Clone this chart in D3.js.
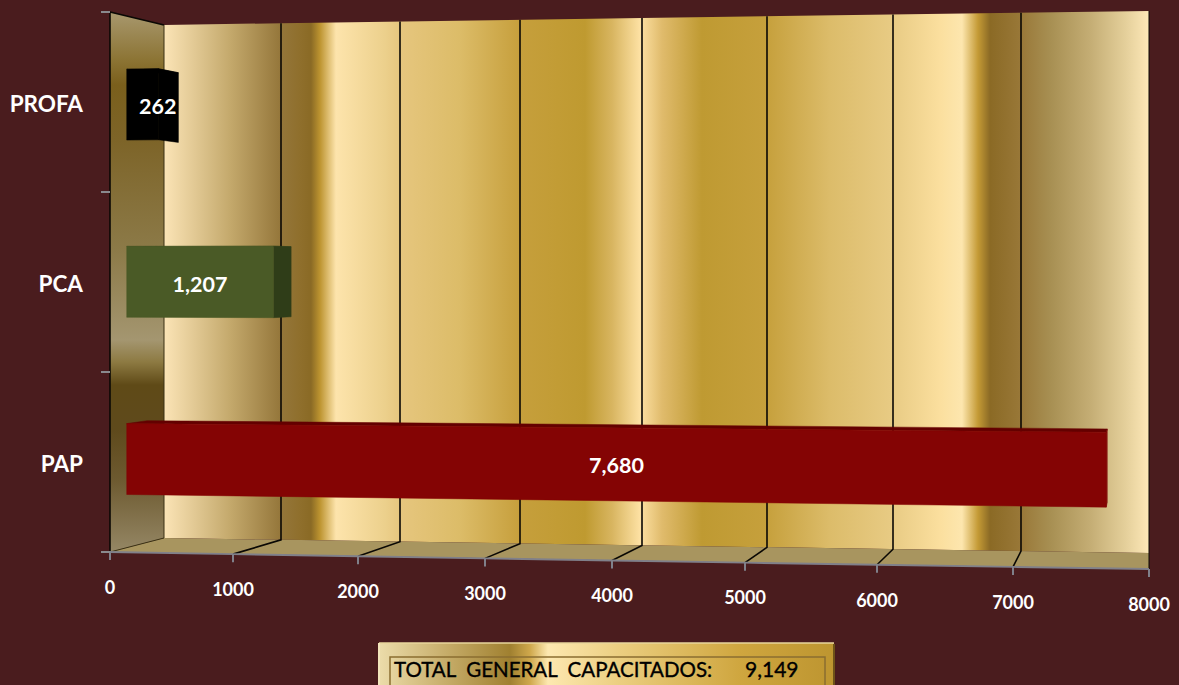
<!DOCTYPE html>
<html><head><meta charset="utf-8">
<script src="https://cdn.jsdelivr.net/npm/d3@7"></script>
<style>html,body{margin:0;padding:0;background:#4a1c1e;overflow:hidden}text{font-family:Lato,"Open Sans",sans-serif}</style>
</head><body><svg id="c" width="1179" height="685"></svg>
<script>
// --- data ---
const categories = ["PAP", "PCA", "PROFA"];
const values = [7680, 1207, 262];
const xTicks = [0, 1000, 2000, 3000, 4000, 5000, 6000, 7000, 8000];
const totalLabel = "TOTAL  GENERAL  CAPACITADOS:";
const barColors = ["#840404", "#4a5a26", "#000000"];
const barSideColors = ["#7a0303", "#2f3d18", "#000000"];
const barTopColors = ["#640000", "#3a4a1e", "#000000"];

// --- perspective layout ---
const frontXs = [110, 233, 358, 485, 612, 745, 877, 1013, 1149];
const backXs  = [164, 281, 400, 520, 642, 767, 893, 1021, 1149];
const floorX = d3.scaleLinear().domain(xTicks).range(frontXs);
const backX  = d3.scaleLinear().domain(xTicks).range(backXs);
const frontBottom = d3.scaleLinear().domain([0, 8000]).range([552, 569]);
const backBottom  = d3.scaleLinear().domain([0, 8000]).range([538, 553]);
const frontTop    = d3.scaleLinear().domain([0, 8000]).range([12, -4]);
const backTop     = d3.scaleLinear().domain([0, 8000]).range([25, 11]);
const band = d3.scaleBand().domain(categories).range([0, 1]).paddingInner(0.6).paddingOuter(0.3);
const DEPTH0 = 0.31, DEPTH1 = 0.69;
function P(v, d, h) {
  const x = floorX(v) + (backX(v) - floorX(v)) * d;
  const b = frontBottom(v) + (backBottom(v) - frontBottom(v)) * d;
  const t = frontTop(v) + (backTop(v) - frontTop(v)) * d;
  return [x, b + (t - b) * h];
}
const svg = d3.select("#c");
const defs = svg.append("defs");
function grad(id, stops, attrs) {
  const g = defs.append("linearGradient").attr("id", id).attr("gradientUnits", "userSpaceOnUse");
  Object.entries(attrs).forEach(([k, v]) => g.attr(k, v));
  const a = attrs.x2 !== attrs.x1 ? attrs.x1 : attrs.y1, b = attrs.x2 !== attrs.x1 ? attrs.x2 : attrs.y2;
  stops.forEach(s => g.append("stop").attr("offset", (s[0] - a) / (b - a)).attr("stop-color", s[1]));
}
grad("wall", [[164,"#fbe4b6"],[230,"#c4a96c"],[281,"#94763a"],[300,"#8f6f2c"],[311,"#8a6a25"],[320,"#bd9430"],[336,"#fde4ac"],[385,"#ecd08c"],[400,"#e6c67e"],[460,"#dcbc68"],[520,"#c69f3c"],[585,"#bf9a30"],[612,"#d8b560"],[640,"#fde1a3"],[662,"#e0bb6c"],[702,"#bf9a32"],[767,"#c6a03c"],[830,"#dcbc6a"],[893,"#e8cb84"],[940,"#fbdf9e"],[962,"#fde6ae"],[978,"#c49a35"],[990,"#8b6a25"],[1021,"#997838"],[1050,"#a78f52"],[1090,"#c4ad74"],[1125,"#e4cf9a"],[1149,"#fde8b8"]],
  {x1:164,x2:1149,y1:0,y2:0});
grad("side", [[12,"#a8986e"],[60,"#8c7434"],[85,"#7a5f1c"],[140,"#7d6428"],[250,"#8c7a48"],[340,"#a49670"],[362,"#8d7a42"],[385,"#5f4a17"],[430,"#5f4a1c"],[480,"#6d5a30"],[552,"#958765"]],
  {x1:0,x2:0,y1:12,y2:552});
grad("box", [[379,"#ecdcaa"],[450,"#c4aa66"],[510,"#a08030"],[530,"#cfa84c"],[548,"#fde8b0"],[620,"#ebce80"],[740,"#cfa63f"],[834,"#bd9530"]],
  {x1:379,x2:834,y1:0,y2:0});

const line = d3.line();
const poly = (pts, fill, stroke) => svg.append("path").attr("d", line(pts) + "Z").attr("fill", fill).attr("stroke", stroke || "none");

svg.append("rect").attr("width", 1179).attr("height", 685).attr("fill", "#4a1c1e");

// back wall, side wall, floor
poly([P(0,1,0), P(0,1,1), P(1000,1,1), P(4000,1,1), P(8000,1,1), P(8000,1,0)], "url(#wall)");
poly([P(0,0,0), P(0,0,1), P(0,1,1), P(0,1,0)], "url(#side)");
poly([P(0,0,0), P(0,1,0), P(8000,1,0), P(8000,0,0)], "#a8955f");

// grid lines
const grid = svg.append("g").attr("fill", "none").attr("stroke", "#0a0804").attr("stroke-width", 1.6);
xTicks.forEach(t => {
  if (t === 8000) {
    grid.append("path").attr("d", line([P(t,1,1), P(t,1,0), P(t,0,0)])).attr("stroke-width", 1);
    return;
  }
  if (t === 0) {
    grid.append("path").attr("d", line([P(t,0,0), P(t,0,1), P(t,1,1)]));
    grid.append("path").attr("d", line([P(t,1,1), P(t,1,0), P(t,0,0)])).attr("stroke", "#3b3115").attr("stroke-width", 1);
    return;
  }
  grid.append("path").attr("d", line([P(t,1,1), P(t,1,0), P(t,0,0)]));
});

// bars
categories.forEach((c, i) => {
  const v = values[i], h0 = band(c), h1 = h0 + band.bandwidth();
  const g = svg.append("g");
  const poly2 = (pts, fill) => g.append("path").attr("d", line(pts) + "Z").attr("fill", fill).attr("stroke", fill).attr("stroke-width", 0.5);
  poly2([P(0,DEPTH0,h1), P(0,DEPTH1,h1), P(v,DEPTH1,h1), P(v,DEPTH0,h1)], barTopColors[i]);
  poly2([P(v,DEPTH0,h0), P(v,DEPTH1,h0), P(v,DEPTH1,h1), P(v,DEPTH0,h1)], barSideColors[i]);
  poly2([P(0,DEPTH0,h0), P(0,DEPTH0,h1), P(v,DEPTH0,h1), P(v,DEPTH0,h0)], barColors[i]);
  const a = P(0,DEPTH0,h0), b = P(v,DEPTH0,h1);
  const mid = Math.max((a[0] + b[0]) / 2, a[0] + 31);
  g.append("text").attr("x", mid).attr("y", (a[1] + b[1]) / 2 + 10)
    .attr("text-anchor", "middle").attr("font-size", 21.5).attr("font-weight", 700)
    .attr("fill", "#fff").text(d3.format(",")(v));
});

// x axis (front edge of floor)
const xg = svg.append("g").call(d3.axisBottom(floorX).tickValues(xTicks).tickSize(8).tickPadding(21).tickFormat(d3.format("d")));
xg.select(".domain").attr("d", line(xTicks.map(t => P(t,0,0)))).attr("stroke", "#80808a").attr("stroke-width", 2).attr("fill", "none");
xg.selectAll(".tick").attr("transform", d => `translate(${floorX(d)},${frontBottom(d)})`);
xg.selectAll(".tick line").attr("stroke", "#80808a").attr("stroke-width", 2);
xg.selectAll(".tick text").attr("fill", "#fff").attr("font-size", 18).attr("font-weight", 700).style("font-family", "Lato,sans-serif");

// y axis
const yBand = d3.scaleBand().domain(categories).range([frontBottom(0), frontTop(0)]);
const yg = svg.append("g").attr("transform", "translate(90,3)")
  .call(d3.axisLeft(yBand).tickSize(0).tickPadding(7));
yg.select(".domain").remove();
yg.selectAll(".tick text").attr("fill", "#fff").attr("font-size", 22.5).attr("font-weight", 700).style("font-family", "Lato,sans-serif");
const yTickScale = d3.scaleLinear().domain([0, categories.length]).range([frontBottom(0), frontTop(0)]);
svg.append("g").selectAll("line").data(d3.range(categories.length + 1)).join("line")
  .attr("x1", 101).attr("x2", 110).attr("y1", d => yTickScale(d)).attr("y2", d => yTickScale(d))
  .attr("stroke", "#8a8a8e").attr("stroke-width", 2);

// total box
svg.append("rect").attr("x", 379).attr("y", 643).attr("width", 455).attr("height", 50).attr("fill", "url(#box)");
svg.append("path").attr("d", "M379,643H834").attr("stroke", "#e8d69c").attr("stroke-width", 1.5);
svg.append("path").attr("d", "M379,643V685").attr("stroke", "#f3e6bc").attr("stroke-width", 2);
svg.append("path").attr("d", "M834,644V685").attr("stroke", "#6d5218").attr("stroke-width", 2);
svg.append("rect").attr("x", 390).attr("y", 657).attr("width", 435).attr("height", 40)
  .attr("fill", "none").attr("stroke", "#8a6e30").attr("stroke-width", 1.5);
svg.append("text").attr("x", 394).attr("y", 677).attr("font-size", 20.5).attr("fill", "#000").attr("stroke", "#000").attr("stroke-width", 0.35).style("white-space", "pre").text(totalLabel);
svg.append("text").attr("x", 745).attr("y", 677).attr("font-size", 21).attr("fill", "#000").attr("stroke", "#000").attr("stroke-width", 0.35).text(d3.format(",")(d3.sum(values)));
</script></body></html>
